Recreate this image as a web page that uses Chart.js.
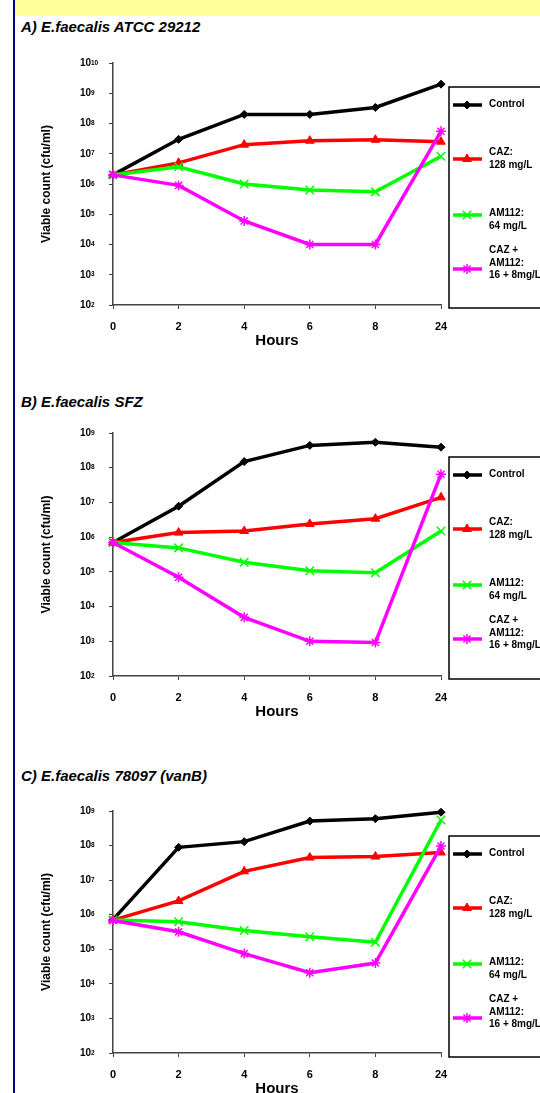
<!DOCTYPE html>
<html>
<head>
<meta charset="utf-8">
<script src="https://cdn.jsdelivr.net/npm/chart.js"></script>
<style>
  body { margin: 0; width: 540px; height: 1093px; overflow: hidden; background: #fff; position: relative; }
  #band { position: absolute; left: 15px; top: 0; width: 525px; height: 16px; background: #ffff99; }
  #rule { position: absolute; left: 13px; top: 0; width: 2px; height: 1093px; background: #00008b; }
  .title { position: absolute; left: 21px; font: italic bold 15px Arial, "Liberation Sans", sans-serif; line-height: 18px; white-space: nowrap; color: #000; }
  canvas { position: absolute; left: 0; }
</style>
</head>
<body>
<div id="band"></div>
<div id="rule"></div>
<div class="title" style="top:18px">A) E.faecalis ATCC 29212</div>
<div class="title" style="top:393px">B) E.faecalis SFZ</div>
<div class="title" style="top:767px">C) E.faecalis 78097 (vanB)</div>
<canvas id="chartA" width="540" height="320" style="top:40px"></canvas>
<canvas id="chartB" width="540" height="318" style="top:413px"></canvas>
<canvas id="chartC" width="540" height="317" style="top:791px"></canvas>
<script>
const hours = ['0', '2', '4', '6', '8', '24'];
const seriesLabels = [['Control'], ['CAZ:', '128 mg/L'], ['AM112:', '64 mg/L'], ['CAZ +', 'AM112:', '16 + 8mg/L']];
const seriesColors = ['#000000', '#ff0000', '#00ff00', '#ff00ff'];
const seriesMarkers = ['rectRot', 'triangle', 'crossRot', 'star'];

// A) E.faecalis ATCC 29212
const aControl = [2e6, 3e7, 2e8, 2e8, 3.4e8, 2e9];
const aCaz = [2e6, 5e6, 2e7, 2.7e7, 2.9e7, 2.5e7];
const aAm112 = [2e6, 3.7e6, 1e6, 6.3e5, 5.5e5, 8.3e6];
const aCombo = [2e6, 9e5, 6e4, 1e4, 1e4, 5.5e7];
const aExponents = [2, 3, 4, 5, 6, 7, 8, 9, 10];

// B) E.faecalis SFZ
const bControl = [7e5, 7.8e6, 1.5e8, 4.4e8, 5.4e8, 3.9e8];
const bCaz = [7e5, 1.35e6, 1.5e6, 2.4e6, 3.4e6, 1.4e7];
const bAm112 = [7e5, 4.9e5, 1.9e5, 1.07e5, 9.4e4, 1.5e6];
const bCombo = [7e5, 7e4, 4.9e3, 1e3, 9.2e2, 6.5e7];
const bExponents = [2, 3, 4, 5, 6, 7, 8, 9];

// C) E.faecalis 78097 (vanB)
const cControl = [7.2e5, 8.9e7, 1.3e8, 5.1e8, 6e8, 9.2e8];
const cCaz = [7e5, 2.5e6, 1.8e7, 4.5e7, 4.8e7, 6.3e7];
const cAm112 = [7e5, 6.3e5, 3.5e5, 2.3e5, 1.6e5, 5.5e8];
const cCombo = [6.8e5, 3.2e5, 7.5e4, 2.1e4, 4e4, 9.7e7];
const cExponents = [2, 3, 4, 5, 6, 7, 8, 9];

const FONT = 'Arial, "Liberation Sans", sans-serif';

// legend rows: line y inside the box, text line offsets around it
const rowY = [18, 72, 128, 182];
const rowText = [[-1], [-7, 6], [-2, 11], [-19, -6, 6]];

const boxLegend = {
    id: 'boxLegend',
    afterDraw(chart, args, opts) {
        const ctx = chart.ctx;
        ctx.save();
        ctx.strokeStyle = '#000';
        ctx.lineWidth = 1.5;
        ctx.strokeRect(opts.left, opts.top, 150, opts.height);
        chart.data.datasets.forEach((ds, i) => {
            let y = opts.top + rowY[i];
            ctx.strokeStyle = ds.borderColor;
            ctx.lineWidth = 3.5;
            ctx.beginPath();
            ctx.moveTo(opts.left + 4, y);
            ctx.lineTo(opts.left + 33, y);
            ctx.stroke();
            ctx.fillStyle = ds.backgroundColor;
            ctx.lineWidth = ds.pointBorderWidth;
            Chart.helpers.drawPoint(ctx, { pointStyle: ds.pointStyle, radius: ds.pointRadius, borderWidth: ds.pointBorderWidth, rotation: 0 }, opts.left + 18, y);
            ctx.fillStyle = '#000';
            ctx.font = 'bold 10px ' + FONT;
            ctx.textBaseline = 'middle';
            ctx.textAlign = 'left';
            seriesLabels[i].forEach((t, k) => ctx.fillText(t, opts.left + 40, y + rowText[i][k]));
        });
        ctx.restore();
    }
};

// superscript exponents next to the "10" tick labels
const expLabels = {
    id: 'expLabels',
    afterDraw(chart) {
        const s = chart.scales.y;
        const ctx = chart.ctx;
        ctx.save();
        ctx.fillStyle = '#000';
        ctx.font = 'bold 6.5px ' + FONT;
        ctx.textBaseline = 'alphabetic';
        ctx.textAlign = 'left';
        s.ticks.forEach(t => {
            let e = Math.round(Math.log10(t.value));
            ctx.fillText(String(e), 91, s.getPixelForValue(t.value) + 1.5);
        });
        ctx.restore();
    }
};

function makeChart(id, series, exps, padTop, legendTop, legendHeight) {
    const radii = [4, 5, 6, 5];
    const borders = [1, 1, 1.5, 1.5];
    const datasets = series.map((vals, i) => ({
        label: seriesLabels[i].join(' '),
        data: vals,
        borderColor: seriesColors[i],
        backgroundColor: seriesColors[i],
        borderWidth: 3.5,
        pointStyle: seriesMarkers[i],
        pointRadius: radii[i],
        pointBorderWidth: borders[i],
        tension: 0,
        clip: false,
        order: 3 - i
    }));
    return new Chart(document.getElementById(id), {
        type: 'line',
        data: { labels: hours, datasets: datasets },
        options: {
            responsive: false,
            animation: false,
            devicePixelRatio: 1,
            layout: { padding: { top: padTop, right: 99, bottom: 0, left: 0 } },
            plugins: {
                legend: { display: false },
                tooltip: { enabled: false },
                boxLegend: { left: 449, top: legendTop, height: legendHeight }
            },
            scales: {
                x: {
                    type: 'category',
                    offset: false,
                    grid: { drawOnChartArea: false, drawTicks: true, tickLength: 4, color: '#444' },
                    border: { color: '#444', width: 1.5 },
                    ticks: { color: '#000', font: { family: FONT, size: 11, weight: 'bold' }, padding: 11, maxRotation: 0, autoSkip: false },
                    title: { display: true, text: 'Hours', color: '#000', font: { family: FONT, size: 15, weight: 'bold' }, padding: { top: 0, bottom: 10 } },
                    afterFit: s => { s.height = 55; s.paddingLeft = 0; s.paddingRight = 0; }
                },
                y: {
                    type: 'logarithmic',
                    min: Math.pow(10, exps[0]),
                    max: Math.pow(10, exps[exps.length - 1]),
                    afterBuildTicks: s => { s.ticks = exps.map(e => ({ value: Math.pow(10, e) })); },
                    grid: { drawOnChartArea: false, drawTicks: true, tickLength: 4, color: '#444' },
                    border: { color: '#444', width: 1.5 },
                    ticks: { color: '#000', font: { family: FONT, size: 10, weight: 'bold' }, padding: 18, callback: () => '10' },
                    title: { display: true, text: 'Viable count (cfu/ml)', color: '#000', font: { family: FONT, size: 12, weight: 'bold' }, padding: { top: 39, bottom: 0 } },
                    afterFit: s => { s.width = 113; s.paddingTop = 0; s.paddingBottom = 0; }
                }
            }
        },
        plugins: [boxLegend, expLabels]
    });
}

makeChart('chartA', [aControl, aCaz, aAm112, aCombo], aExponents, 23, 47, 221);
makeChart('chartB', [bControl, bCaz, bAm112, bCombo], bExponents, 20, 44, 222);
makeChart('chartC', [cControl, cCaz, cAm112, cCombo], cExponents, 20, 45, 221);
</script>
</body>
</html>
